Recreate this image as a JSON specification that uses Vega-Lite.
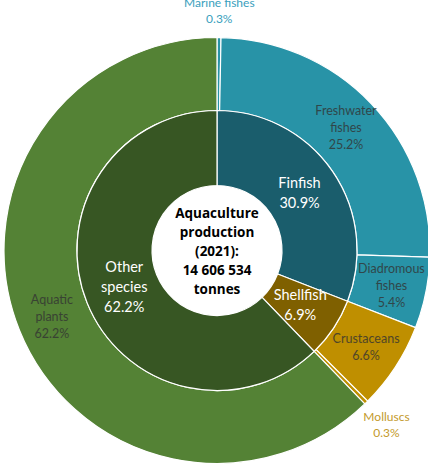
{
  "$schema": "https://vega.github.io/schema/vega-lite/v6.json",
  "autosize": {"type": "none"},
  "width": 422,
  "height": 429,
  "padding": {"left": 6, "top": 36, "right": 0, "bottom": 0},
  "background": "white",
  "config": {"view": {"stroke": null}, "font": "Lato"},
  "datasets": {
    "inner": [
      {"name": "Finfish", "label": "Finfish\n30.9%", "value": 30.9, "order": 1},
      {"name": "Shellfish", "label": "Shellfish\n6.9%", "value": 6.9, "order": 2},
      {"name": "Other species", "label": "Other\nspecies\n62.2%", "value": 62.2, "order": 3}
    ],
    "outer": [
      {"name": "Marine fishes", "label": "Marine fishes\n0.3%", "value": 0.3, "order": 1},
      {"name": "Freshwater fishes", "label": "Freshwater\nfishes\n25.2%", "value": 25.2, "order": 2},
      {"name": "Diadromous fishes", "label": "Diadromous\nfishes\n5.4%", "value": 5.4, "order": 3},
      {"name": "Crustaceans", "label": "Crustaceans\n6.6%", "value": 6.6, "order": 4},
      {"name": "Molluscs", "label": "Molluscs\n0.3%", "value": 0.3, "order": 5},
      {"name": "Aquatic plants", "label": "Aquatic\nplants\n62.2%", "value": 62.2, "order": 6}
    ],
    "center": [
      {"label": "Aquaculture\nproduction\n(2021):\n14 606 534\ntonnes"}
    ]
  },
  "layer": [
    {
      "data": {"name": "outer"},
      "mark": {"type": "arc", "radius": 213, "radius2": 140, "stroke": "white", "strokeWidth": 1.2},
      "encoding": {
        "theta": {"field": "value", "type": "quantitative", "stack": true, "scale": {"domain": [0, 100]}},
        "order": {"field": "order", "type": "quantitative"},
        "color": {
          "field": "name", "type": "nominal", "legend": null,
          "scale": {
            "domain": ["Marine fishes", "Freshwater fishes", "Diadromous fishes", "Crustaceans", "Molluscs", "Aquatic plants", "Finfish", "Shellfish", "Other species"],
            "range": ["#2893a7", "#2893a7", "#2893a7", "#bf8f00", "#bf8f00", "#548235", "#1a5d6c", "#7f6000", "#375623"]
          }
        }
      }
    },
    {
      "data": {"name": "inner"},
      "mark": {"type": "arc", "radius": 140, "radius2": 65, "stroke": "white", "strokeWidth": 1.2},
      "encoding": {
        "theta": {"field": "value", "type": "quantitative", "stack": true},
        "order": {"field": "order", "type": "quantitative"},
        "color": {"field": "name", "type": "nominal", "legend": null}
      }
    },
    {
      "data": {"name": "outer"},
      "mark": {"type": "text", "radius": 178, "lineBreak": "\n", "fontSize": 12.5, "lineHeight": 17, "align": "center", "baseline": "middle", "fill": "#333333", "opacity": 0.8, "dy": {"expr": "-(length(split(datum.label, '\\n')) - 1) * 8.5"}},
      "encoding": {
        "theta": {"field": "value", "type": "quantitative", "stack": true},
        "order": {"field": "order", "type": "quantitative"},
        "text": {"condition": {"test": "datum.value >= 1", "field": "label"}, "value": ""}
      }
    },
    {
      "data": {"name": "outer"},
      "mark": {"type": "text", "radius": 242, "lineBreak": "\n", "fontSize": 12, "lineHeight": 16, "align": "center", "baseline": "middle", "dy": -6},
      "encoding": {
        "theta": {"field": "value", "type": "quantitative", "stack": true},
        "order": {"field": "order", "type": "quantitative"},
        "text": {"condition": {"test": "datum.value < 1", "field": "label"}, "value": ""},
        "color": {"condition": {"test": "datum.name == 'Molluscs'", "value": "#c39a2c"}, "value": "#3aa0bd"}
      }
    },
    {
      "data": {"name": "inner"},
      "mark": {"type": "text", "radius": 100, "lineBreak": "\n", "fontSize": 14.5, "lineHeight": 20, "align": "center", "baseline": "middle", "fill": "white", "dy": {"expr": "-(length(split(datum.label, '\\n')) - 1) * 10"}},
      "encoding": {
        "theta": {"field": "value", "type": "quantitative", "stack": true},
        "order": {"field": "order", "type": "quantitative"},
        "text": {"field": "label", "type": "nominal"}
      }
    },
    {
      "data": {"name": "center"},
      "mark": {"type": "text", "lineBreak": "\n", "font": "Open Sans", "fontSize": 13.5, "fontWeight": "bold", "lineHeight": 19, "align": "center", "baseline": "middle", "fill": "black", "dy": -37},
      "encoding": {
        "text": {"field": "label", "type": "nominal"}
      }
    }
  ]
}
